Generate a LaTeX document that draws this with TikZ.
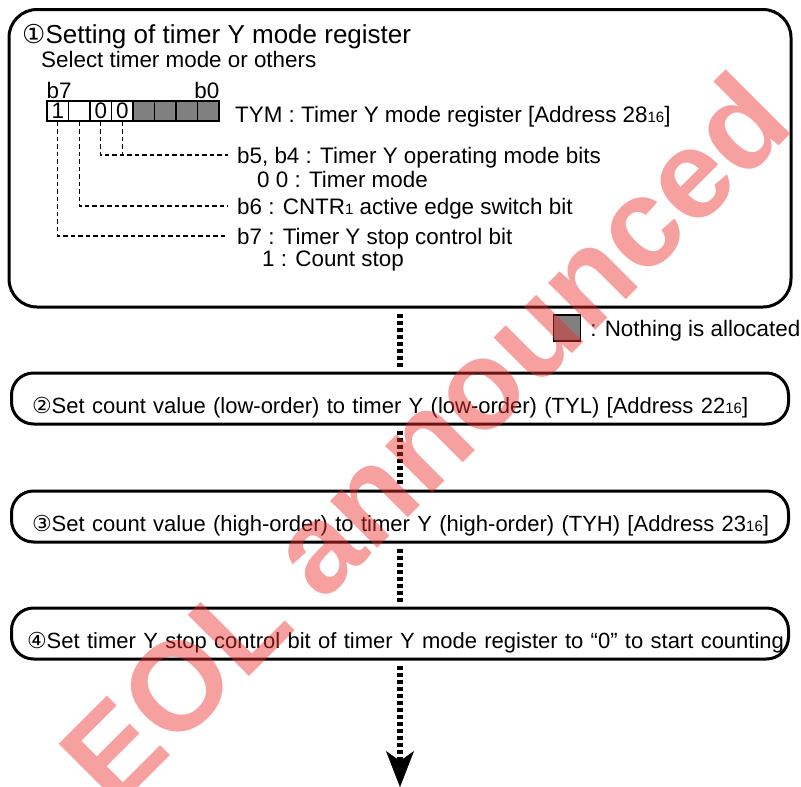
\documentclass[tikz,border=0pt]{standalone}
\usepackage{fontspec}
\setmainfont{Liberation Sans}
\newfontfamily\circfont{DejaVu Sans}
\usepackage{tikz}
\usetikzlibrary{arrows.meta,positioning}
\definecolor{regfree}{RGB}{128,128,128}
\definecolor{eolred}{RGB}{236,45,45}
\newcommand{\lo}[1]{{\fontsize{15}{15}\selectfont #1}}
\newcommand{\stepno}[1]{{\circfont #1}}

\begin{document}
\begin{tikzpicture}[x=1pt, y=-1pt,
  txt/.style={font=\fontsize{22.4}{26}\selectfont, inner sep=0pt},
  tag/.style={txt, text height=16pt, text depth=0pt},
  stepbox/.style={draw, line width=3pt, rounded corners=22pt, inner sep=0pt,
    font=\fontsize{22}{26}\selectfont,
    text height=29pt, text depth=0pt, text width=767pt, inner xsep=5pt,
    minimum height=51pt, align=left},
  cell/.style={draw, line width=1.2pt, minimum width=21.5pt,
    minimum height=20pt, inner sep=0pt, txt},
  freecell/.style={cell, fill=regfree},
  leader/.style={line width=1.2pt, dash pattern=on 4.5pt off 3pt, shorten >=9pt},
  flow/.style={line width=6.5pt, dash pattern=on 4pt off 3pt,
    shorten <=5pt, shorten >=4pt},
  >=Stealth]
  \useasboundingbox (0,0) rectangle (801,787);
  % mode register
  \node[draw, line width=3pt, rounded corners=28pt, minimum width=782pt,
    minimum height=297.5pt, inner sep=0pt] (step1) at (400,158.25) {};
  \node[anchor=base west, inner sep=0pt, font=\fontsize{26}{30}\selectfont]
    (title) at (22,43) {\stepno{①}Setting of timer Y mode register};
  \node[txt, anchor=base west] (sub) at (41,67) {Select timer mode or others};
  \foreach \bit/\val [count=\k from 0] in {7/1,6/{},5/0,4/0}
    \node[cell] (b\bit) at (57.75+21.5*\k,111) {\val};
  \foreach \bit [count=\k from 4] in {3,2,1,0}
    \node[freecell] (b\bit) at (57.75+21.5*\k,111) {};
  \node[txt, anchor=base west] (msb) at ([yshift=2pt]b7.north west) {b7};
  \node[txt, anchor=base east] (lsb) at ([yshift=2pt]b0.north east) {b0};
  \node[txt, anchor=base west] (tym) at (235,122)
    {TYM : Timer Y mode register [Address 28\lo{16}]};
  \node[tag, anchor=west] (f54) at (237,155) {b5, b4 : Timer Y operating mode bits};
  \node[txt, anchor=base west] (f54v) at (257,187) {0 0 : Timer mode};
  \node[tag, anchor=west] (f6) at (237,206) {b6 : CNTR\lo{1} active edge switch bit};
  \node[tag, anchor=west] (f7) at (237,236) {b7 : Timer Y stop control bit};
  \node[txt, anchor=base west] (f7v) at (262,266) {1 : Count stop};
  \draw[leader] (b5.south) |- (f54.west);
  \draw[leader, shorten >=0pt] (b4.south) -- (b4.south |- f54.west);
  \draw[leader] (b6.south) |- (f6.west);
  \draw[leader] (b7.south) |- (f7.west);
  % legend
  \node[freecell, minimum width=27pt, minimum height=26pt] (key) at (567,328) {};
  \node[tag, anchor=west] (keytxt) at ([xshift=9pt]key.east) {: Nothing is allocated};
  % steps
  \node[stepbox] (step2) at (400,398.5)
    {\hspace*{15.5pt}\mbox{\stepno{②}Set count value (low-order) to timer Y (low-order) (TYL) [Address 22\lo{16}]}};
  \node[stepbox] (step3) at (400,516.5)
    {\hspace*{15.5pt}\mbox{\stepno{③}Set count value (high-order) to timer Y (high-order) (TYH) [Address 23\lo{16}]}};
  \node[stepbox] (step4) at (400,633.5)
    {\hspace*{10.5pt}\mbox{\stepno{④}Set timer Y stop control bit of timer Y mode register to “0” to start counting}};
  \foreach \a/\b in {step1/step2,step2/step3,step3/step4} \draw[flow] (\a) -- (\b);
  \coordinate (end) at (400,787);
  \draw[flow, shorten >=0pt,
    -{Stealth[length=36pt, width=28pt, inset=10pt, line width=0.5pt]}] (step4) -- (end);
  % watermark
  \node[rotate=45, text=eolred, opacity=0.45, inner sep=0pt,
    font=\fontsize{126}{126}\selectfont\bfseries] (eol) at (424,438) {EOL announced};
\end{tikzpicture}
\end{document}
